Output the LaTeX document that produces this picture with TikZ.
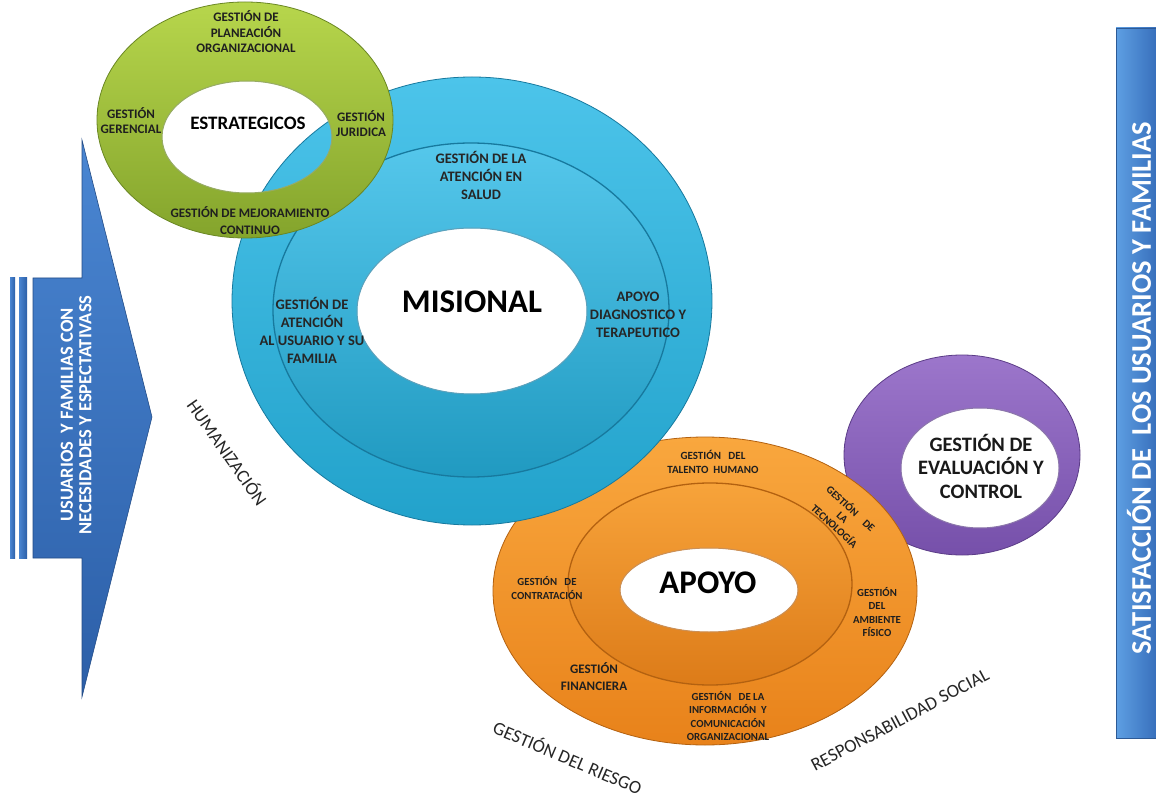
\documentclass[tikz,border=0pt]{standalone}
\usepackage{fontspec}
\setmainfont{Carlito}
\definecolor{gtop}{HTML}{B7D64C}
\definecolor{gbot}{HTML}{84A42C}
\definecolor{gedge}{HTML}{6A8723}
\definecolor{btop}{HTML}{4CC4EA}
\definecolor{bbot}{HTML}{22A2CB}
\definecolor{bedge}{HTML}{17799E}
\definecolor{otop}{HTML}{F9A73E}
\definecolor{obot}{HTML}{E8821A}
\definecolor{oedge}{HTML}{B36110}
\definecolor{ptop}{HTML}{9C76CB}
\definecolor{pbot}{HTML}{7650AA}
\definecolor{pedge}{HTML}{5B3C87}
\definecolor{atop}{HTML}{4A86D2}
\definecolor{abot}{HTML}{2C5FA8}
\definecolor{rtop}{HTML}{5E9FE3}
\definecolor{rbot}{HTML}{3870BC}
\tikzset{
  lbl/.style={font=\bfseries\fontsize{13}{15.5}\selectfont, align=center, inner sep=0pt, text=black!88},
  mlbl/.style={font=\bfseries\fontsize{14.5}{18}\selectfont, align=center, inner sep=0pt, text=black!85},
  slbl/.style={font=\bfseries\fontsize{10.8}{13.3}\selectfont, align=center, inner sep=0pt, text=black!88},
  biglbl/.style={font=\bfseries\fontsize{33}{36}\selectfont, inner sep=0pt, text=black},
  rotlbl/.style={font=\fontsize{18.5}{20}\selectfont, inner sep=0pt, text=black!85},
  wlbl/.style={font=\bfseries\fontsize{18.5}{18.5}\selectfont, align=center, inner sep=0pt, text=white},
}
\begin{document}
\begin{tikzpicture}[x=1pt,y=-1pt]
\useasboundingbox (0,0) rectangle (1156,799);
\fill[white] (0,0) rectangle (1156,799);

% left arrow
\shade[left color=atop, right color=abot] (10,278) rectangle (15,558);
\shade[left color=atop, right color=abot] (19,278) rectangle (27,558);
\shade[top color=atop, bottom color=abot, draw=abot!80!black, line width=0.6pt]
  (33,278) -- (82,278) -- (82,140) -- (152,417) -- (82,697) -- (82,558) -- (33,558) -- cycle;
\node[wlbl, rotate=90] (usu) at (76,415) {USUARIOS\ \ Y FAMILIAS CON\\NECESIDADES Y ESPECTATIVASS};

% right bar
\shade[left color=rtop, right color=rbot, draw=rbot!80!black, line width=0.6pt] (1116,28) rectangle (1156,738);
\node[font=\bfseries\fontsize{28.5}{30}\selectfont, text=white, rotate=90, inner sep=0pt] (sat) at (1139,388) {SATISFACCIÓN DE\ \ LOS USUARIOS Y FAMILIAS};

% purple ring
\shade[top color=ptop, bottom color=pbot, even odd rule]
  (962,455) ellipse [x radius=118pt, y radius=100pt]
  (980,468) ellipse [x radius=79pt, y radius=60pt];
\draw[pedge, line width=0.8pt] (962,455) ellipse [x radius=118pt, y radius=100pt];
\draw[pedge!70, line width=1pt] (980,468) ellipse [x radius=79pt, y radius=60pt];

% orange ring
\shade[top color=otop, bottom color=obot, even odd rule]
  (705,591) ellipse [x radius=212pt, y radius=154pt]
  (709,590) ellipse [x radius=89pt, y radius=42pt];
\draw[oedge, line width=0.8pt] (705,591) ellipse [x radius=212pt, y radius=154pt];
\shade[top color=otop!90!obot, bottom color=obot!95!black, even odd rule]
  (710,584) ellipse [x radius=142pt, y radius=101pt]
  (709,590) ellipse [x radius=89pt, y radius=42pt];
\draw[oedge, line width=1.3pt] (710,584) ellipse [x radius=142pt, y radius=101pt];
\draw[oedge!70, line width=1pt] (709,590) ellipse [x radius=89pt, y radius=42pt];

% blue ring
\shade[top color=btop, bottom color=bbot, even odd rule]
  (472,301) ellipse [x radius=240pt, y radius=224pt]
  (472,311) ellipse [x radius=115pt, y radius=83pt];
\draw[bedge, line width=0.8pt] (472,301) ellipse [x radius=240pt, y radius=224pt];
\shade[top color=btop!95!white, bottom color=bbot!95!black, even odd rule]
  (471,310) ellipse [x radius=198pt, y radius=167pt]
  (472,311) ellipse [x radius=115pt, y radius=83pt];
\draw[bedge, line width=1.3pt] (471,310) ellipse [x radius=198pt, y radius=167pt];
\draw[bedge!70, line width=1pt] (472,311) ellipse [x radius=115pt, y radius=83pt];

% green ring
\shade[top color=gtop, bottom color=gbot, even odd rule]
  (245,120) ellipse [x radius=148pt, y radius=118pt]
  (247,137) ellipse [x radius=85pt, y radius=56pt];
\draw[gedge, line width=0.8pt] (245,120) ellipse [x radius=148pt, y radius=118pt];
\draw[gedge!70, line width=1pt] (247,137) ellipse [x radius=85pt, y radius=56pt];

% green texts
\node[lbl] (plan) at (246,32) {GESTIÓN DE\\PLANEACIÓN\\ORGANIZACIONAL};
\node[lbl, font=\bfseries\fontsize{13}{15}\selectfont] (ger) at (131,121) {GESTIÓN\\GERENCIAL};
\node[font=\bfseries\fontsize{19}{21}\selectfont, inner sep=0pt, text=black] (est) at (248,123) {ESTRATEGICOS};
\node[lbl, font=\bfseries\fontsize{13}{15}\selectfont] (jur) at (361,124) {GESTIÓN\\JURIDICA};
\node[lbl, font=\bfseries\fontsize{13}{17}\selectfont] (mej) at (250,221) {GESTIÓN DE MEJORAMIENTO\\CONTINUO};

% blue texts
\node[mlbl] (sal) at (481,175) {GESTIÓN DE LA\\ATENCIÓN EN\\SALUD};
\node[biglbl] (mis) at (472,302) {MISIONAL};
\node[mlbl] (aus) at (312,330) {GESTIÓN DE\\ATENCIÓN\\AL USUARIO Y SU\\FAMILIA};
\node[mlbl] (diag) at (638,315) {APOYO\\DIAGNOSTICO Y\\TERAPEUTICO};

% orange texts
\node[slbl, font=\bfseries\fontsize{11}{14}\selectfont] (tal) at (713,462) {GESTIÓN\ \ \ DEL\\TALENTO\ \ HUMANO};
\node[slbl, font=\bfseries\fontsize{10.8}{12}\selectfont, rotate=-43] (tec) at (843,517) {GESTIÓN\ \ \ \ DE\\LA\\TECNOLOGÍA};
\node[biglbl] (apo) at (708,583) {APOYO};
\node[slbl] (con) at (547,588) {GESTIÓN\ \ \ DE\\CONTRATACIÓN};
\node[slbl] (amb) at (877,612) {GESTIÓN\\DEL\\AMBIENTE\\FÍSICO};
\node[font=\bfseries\fontsize{13}{17}\selectfont, align=center, inner sep=0pt, text=black!88] (fin) at (594,677) {GESTIÓN\\FINANCIERA};
\node[slbl] (inf) at (728,716) {GESTIÓN\ \ \ DE LA\\INFORMACIÓN\ \ Y\\COMUNICACIÓN\\ORGANIZACIONAL};

% purple text
\node[font=\bfseries\fontsize{20.5}{23.5}\selectfont, align=center, inner sep=0pt, text=black!90] (eva) at (981,466) {GESTIÓN DE\\EVALUACIÓN Y\\CONTROL};

% rotated labels
\node[rotlbl, rotate=-55] (hum) at (228,452) {HUMANIZACIÓN};
\node[rotlbl, rotate=-23] (rie) at (568,757) {GESTIÓN DEL RIESGO};
\node[rotlbl, rotate=28] (res) at (900,720) {RESPONSABILIDAD SOCIAL};
\end{tikzpicture}
\end{document}
